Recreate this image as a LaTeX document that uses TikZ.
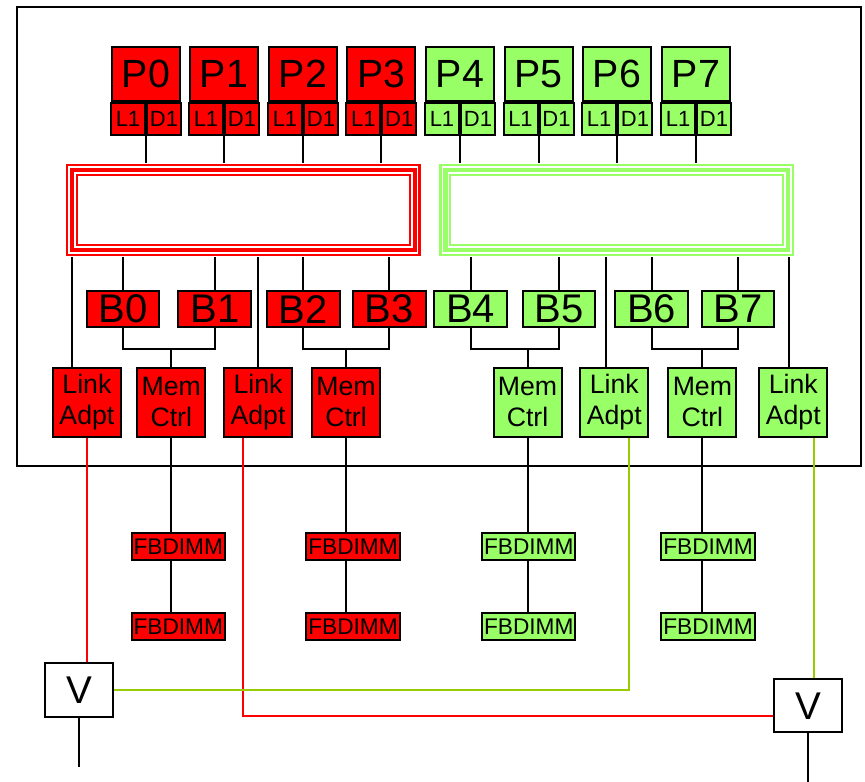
\documentclass[tikz,border=0pt]{standalone}
\usepackage{fontspec}
\setmainfont{Liberation Sans}
\usetikzlibrary{calc}

\definecolor{cpured}{RGB}{255,0,0}
\definecolor{cpugreen}{RGB}{153,255,102}
\definecolor{wiregreen}{RGB}{153,204,0}

\tikzset{
  box/.style={draw=black, line width=1.5pt, inner sep=0pt, align=center},
  pbox/.style={box, minimum width=51pt, minimum height=40.5pt, font=\fontsize{29.5}{30}\selectfont},
  cell/.style={box, minimum width=25.5pt, minimum height=24pt, font=\fontsize{16.5}{17}\selectfont},
  bbox/.style={box, minimum width=54.5pt, minimum height=27pt, font=\fontsize{30}{30}\selectfont},
  ctrlbox/.style={box, minimum width=51pt, minimum height=51.75pt, font=\fontsize{20}{23.5}\selectfont},
  dimm/.style={box, minimum width=70pt, minimum height=20.5pt, font=\fontsize{17}{17}\selectfont},
  vbox/.style={box, fill=white, minimum width=51pt, minimum height=40pt, font=\fontsize{29}{30}\selectfont},
  ring/.style={fill, minimum width=266pt, minimum height=69pt, inner sep=0pt},
  wire/.style={line width=1.5pt}
}

\begin{document}
\begin{tikzpicture}[x=0.75pt, y=-0.75pt, line width=1.5pt]
  \useasboundingbox (0,0) rectangle (865,782);

  % frame of the board
  \draw[line width=1.5pt] (17,7) rectangle (861,466);

  % the two rings
  \node[ring, cpured] (ringR) at (243.4,210) {};
  \node[ring, cpugreen] (ringG) at (616.7,210) {};
  \foreach \r in {ringR,ringG} {
    \draw[white, line width=1pt] ($(\r.north west)+(4,4)$) rectangle ($(\r.south east)+(-4,-4)$);
    \draw[white, line width=1.2pt] ($(\r.north west)+(10,10)$) rectangle ($(\r.south east)+(-10,-10)$);
    \fill[white] ($(\r.north west)+(13,13)$) rectangle ($(\r.south east)+(-13,-13)$);
  }

  % processors with their caches
  \foreach \i/\x/\c in {0/146/cpured,1/224/cpured,2/303/cpured,3/381.3/cpured,
                        4/460/cpugreen,5/538.5/cpugreen,6/617/cpugreen,7/696/cpugreen} {
    \node[pbox, fill=\c] (p\i) at (\x,74.2) {P\i};
    \node[cell, fill=\c, anchor=north east] (l\i) at (p\i.south) {L1};
    \node[cell, fill=\c, anchor=north west] (d\i) at (p\i.south) {D1};
    \draw (l\i.south east) -- (l\i.south east |- ringR.north);
  }

  % banks
  \foreach \i/\x/\c in {0/123/cpured,1/214.8/cpured,2/303.3/cpured,3/389.3/cpured,
                        4/470.7/cpugreen,5/559/cpugreen,6/651.7/cpugreen,7/738/cpugreen} {
    \node[bbox, fill=\c] (b\i) at (\x,309.2) {B\i};
    \draw (b\i.north) -- (b\i.north |- ringR.south);
  }

  % memory controllers and link adapters
  \node[ctrlbox, fill=cpured] (la0) at (86.9,402.2) {Link\\Adpt};
  \node[ctrlbox, fill=cpured] (mc0) at (171.3,402.2) {Mem\\Ctrl};
  \node[ctrlbox, fill=cpured] (la1) at (258,402.2) {Link\\Adpt};
  \node[ctrlbox, fill=cpured] (mc1) at (346,402.2) {Mem\\Ctrl};
  \node[ctrlbox, fill=cpugreen] (mc2) at (527.5,402.2) {Mem\\Ctrl};
  \node[ctrlbox, fill=cpugreen] (la2) at (614.3,402.2) {Link\\Adpt};
  \node[ctrlbox, fill=cpugreen] (mc3) at (702.4,402.2) {Mem\\Ctrl};
  \node[ctrlbox, fill=cpugreen] (la3) at (793.3,402.2) {Link\\Adpt};

  \foreach \a/\b/\m in {0/1/0,2/3/1,4/5/2,6/7/3} {
    \draw (b\a.south) -- ++(0,21) coordinate (k\m) -| (b\b.south);
    \draw (mc\m.north) -- (mc\m.north |- k\m);
  }
  \foreach \n/\d/\r in {0/-14.6/ringR,1/0/ringR,2/-8.6/ringG,3/-4.3/ringG}
    \draw ($(la\n.north)+(\d,0)$) coordinate (t\n) -- (t\n |- \r.south);

  % FB-DIMMs
  \foreach \m/\x/\c in {0/178.3/cpured,1/353/cpured,2/528.8/cpugreen,3/708/cpugreen} {
    \node[dimm, fill=\c] (fa\m) at (\x,546.5) {FBDIMM};
    \node[dimm, fill=\c] (fb\m) at (\x,626.5) {FBDIMM};
    \draw (mc\m.south) -- (mc\m.south |- fa\m.north);
    \draw (fa\m.south -| mc\m) -- (fb\m.north -| mc\m);
  }

  % links between the boards
  \node[vbox] (v1) at (78.9,690) {V};
  \node[vbox] (v2) at (808.2,705.7) {V};
  \coordinate (e1) at (78.9,767.3);
  \coordinate (e2) at (808.2,782);
  \draw (v1.south) -- (e1);
  \draw (v2.south) -- (e2);

  \draw[wire, cpured] (la0.south) -- (la0.south |- v1.north);
  \draw[wire, cpured] ($(la1.south)+(-15.3,0)$) |- ($(v2.west)+(0,10.3)$);
  \draw[wire, wiregreen] ($(la2.south)+(14.7,0)$) |- (v1.east);
  \draw[wire, wiregreen] ($(la3.south)+(21,0)$) coordinate (w3) -- (w3 |- v2.north);
\end{tikzpicture}
\end{document}
